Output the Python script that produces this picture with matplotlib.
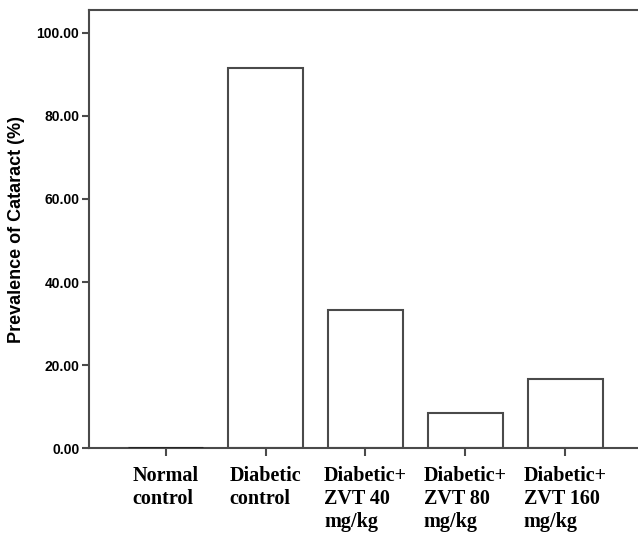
import matplotlib.pyplot as plt

# ------------------------------
# Data
# ------------------------------
groups = ["Normal\ncontrol", "Diabetic\ncontrol", "Diabetic+\nZVT 40\nmg/kg",
          "Diabetic+\nZVT 80\nmg/kg", "Diabetic+\nZVT 160\nmg/kg"]
prevalence = [0.0, 91.67, 33.33, 8.33, 16.67]
y_ticks = [0, 20, 40, 60, 80, 100]

EDGE = "#4a4a4a"

fig = plt.figure(figsize=(6.38, 5.34), dpi=100)
ax = fig.add_axes([0.1395, 0.161, 0.8605, 0.820])

x = range(len(groups))
ax.bar(x, prevalence, width=0.75, color="white", edgecolor=EDGE, linewidth=1.5)
# zero-height bar still shows as a flat line
ax.hlines(0, -0.375, 0.375, color="#222222", linewidth=2.0, zorder=3)

ax.set_xlim(-0.77, 4.73)
ax.set_ylim(0, 105.5)

ax.set_yticks(y_ticks)
ax.set_yticklabels([f"{v:.2f}" for v in y_ticks], fontweight="bold",
                   fontsize=10, family="Liberation Sans")
ax.set_xticks(list(x))
ax.set_xticklabels(groups, fontweight="bold", fontsize=14.5, family="Liberation Serif",
                   ha="center", multialignment="left", linespacing=1.2)

ax.set_ylabel("Prevalence of Cataract (%)", fontweight="bold", fontsize=13,
              family="Liberation Sans", labelpad=8)

for side in ["left", "top", "bottom"]:
    ax.spines[side].set_color(EDGE)
    ax.spines[side].set_linewidth(1.5)
ax.spines["right"].set_visible(False)

ax.tick_params(axis="y", direction="out", length=5, width=1.5, color=EDGE, pad=2)
ax.tick_params(axis="x", direction="out", length=6, width=1.5, color=EDGE, pad=7)

fig.savefig("out.png", dpi=100)
